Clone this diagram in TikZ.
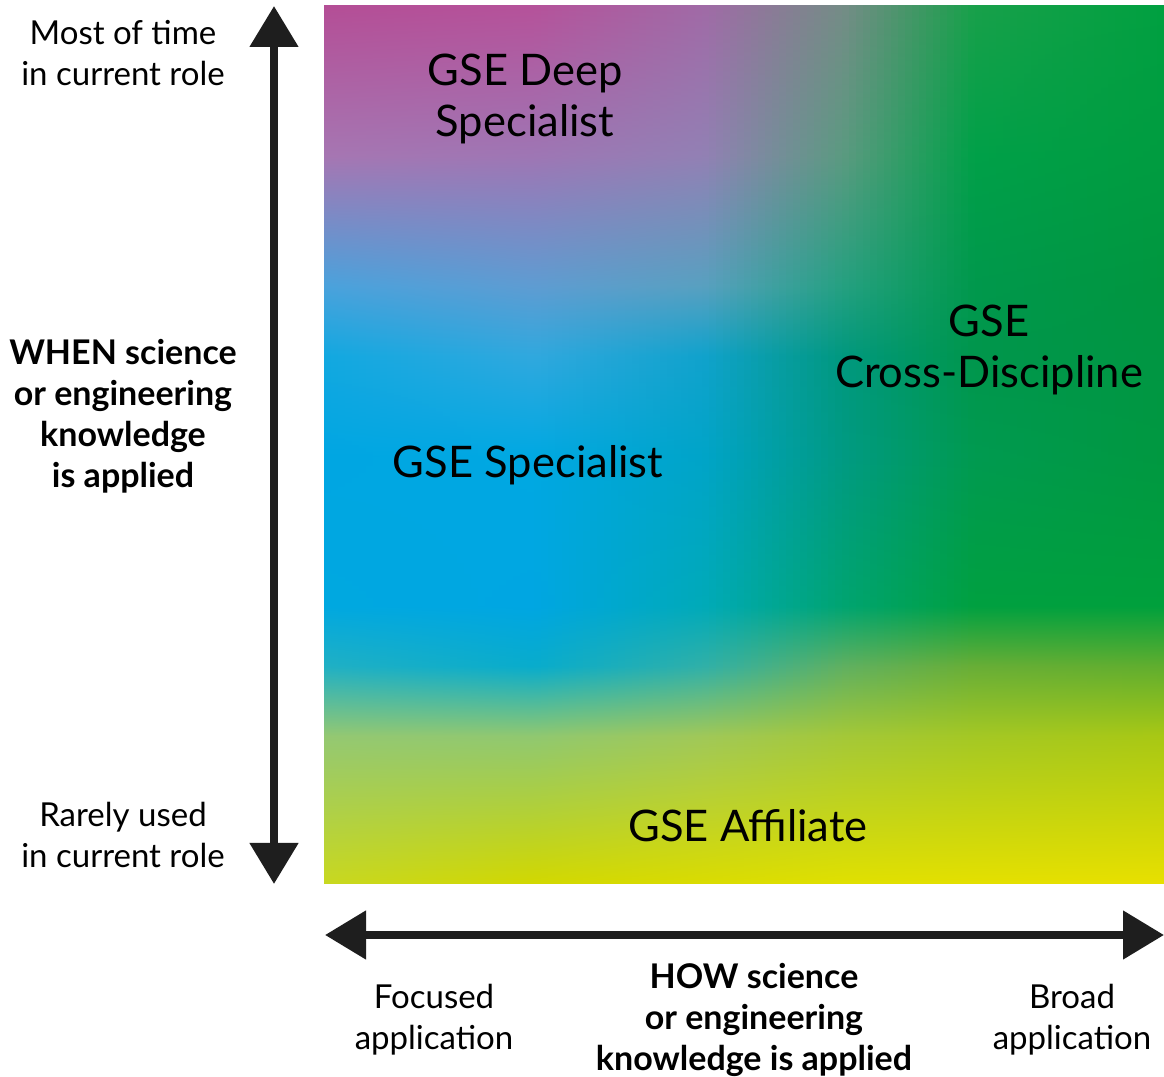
\documentclass[tikz,border=0pt]{standalone}
\usepackage{fontspec}
\setmainfont{Lato}
\usetikzlibrary{arrows.meta}
% control grid colours: c<row><col>
\definecolor{c00}{HTML}{B44E96}\definecolor{c01}{HTML}{B5529A}\definecolor{c02}{HTML}{A06AA6}\definecolor{c03}{HTML}{748C86}\definecolor{c04}{HTML}{18A04A}\definecolor{c05}{HTML}{00A040}
\definecolor{c10}{HTML}{A676B2}\definecolor{c11}{HTML}{9E76B4}\definecolor{c12}{HTML}{9280B4}\definecolor{c13}{HTML}{5A9A80}\definecolor{c14}{HTML}{00A048}\definecolor{c15}{HTML}{009C40}
\definecolor{c20}{HTML}{4AA2DC}\definecolor{c21}{HTML}{5E9CD2}\definecolor{c22}{HTML}{58A0C0}\definecolor{c23}{HTML}{24A080}\definecolor{c24}{HTML}{00984C}\definecolor{c25}{HTML}{00963F}
\definecolor{c30}{HTML}{12A8E0}\definecolor{c31}{HTML}{30A8DE}\definecolor{c32}{HTML}{10A2CC}\definecolor{c33}{HTML}{00987E}\definecolor{c34}{HTML}{00964C}\definecolor{c35}{HTML}{009642}
\definecolor{c40}{HTML}{00A6E2}\definecolor{c41}{HTML}{00A8E2}\definecolor{c42}{HTML}{00A4C8}\definecolor{c43}{HTML}{009A82}\definecolor{c44}{HTML}{009A50}\definecolor{c45}{HTML}{009840}
\definecolor{c50}{HTML}{00A8E0}\definecolor{c51}{HTML}{00A6E2}\definecolor{c52}{HTML}{00AAB8}\definecolor{c53}{HTML}{00A470}\definecolor{c54}{HTML}{00A040}\definecolor{c55}{HTML}{00A03C}
\definecolor{c60}{HTML}{20B0C4}\definecolor{c61}{HTML}{08ACCC}\definecolor{c62}{HTML}{30B0A8}\definecolor{c63}{HTML}{60B060}\definecolor{c64}{HTML}{68AE36}\definecolor{c65}{HTML}{60AE2E}
\definecolor{c70}{HTML}{94C872}\definecolor{c71}{HTML}{90C870}\definecolor{c72}{HTML}{A0C858}\definecolor{c73}{HTML}{A4C838}\definecolor{c74}{HTML}{A4C824}\definecolor{c75}{HTML}{A8C814}
\definecolor{c80}{HTML}{C8D820}\definecolor{c81}{HTML}{D2D800}\definecolor{c82}{HTML}{DADC00}\definecolor{c83}{HTML}{E0E000}\definecolor{c84}{HTML}{E4E000}\definecolor{c85}{HTML}{E8E000}
\definecolor{arrowdark}{HTML}{1E1E1E}
\tikzset{
  region/.style={font=\fontsize{43.5}{51}\selectfont, align=center, text=black, inner sep=0pt},
  axislabel/.style={font=\fontsize{33}{41}\selectfont, align=center, text=black, inner sep=0pt},
  axistitle/.style={font=\bfseries\fontsize{34}{41}\selectfont, align=center, text=black, inner sep=0pt},
  axisarrow/.style={draw=arrowdark, line width=8pt, {Triangle[width=47pt,length=41pt]}-{Triangle[width=47pt,length=41pt]}, arrowdark},
}
\begin{document}
\begin{tikzpicture}[x=1pt,y=1pt]
\useasboundingbox (0,0) rectangle (1164,1076);
\fill[white] (0,0) rectangle (1164,1076);
% gradient square
\begin{scope}
\clip (324,192) rectangle (1164,1070);
\foreach \k in {0,...,119}{
  \pgfmathsetmacro{\xx}{(\k+0.5)*7}
  \ifdim\xx pt<210pt
    \def\ca{0}\def\cb{1}\pgfmathsetmacro{\pp}{100*(1-\xx/210)}
  \else\ifdim\xx pt<380pt
    \def\ca{1}\def\cb{2}\pgfmathsetmacro{\pp}{100*(1-(\xx-210)/170)}
  \else\ifdim\xx pt<520pt
    \def\ca{2}\def\cb{3}\pgfmathsetmacro{\pp}{100*(1-(\xx-380)/140)}
  \else\ifdim\xx pt<650pt
    \def\ca{3}\def\cb{4}\pgfmathsetmacro{\pp}{100*(1-(\xx-520)/130)}
  \else
    \def\ca{4}\def\cb{5}\pgfmathsetmacro{\pp}{100*(1-(\xx-650)/190)}
  \fi\fi\fi\fi
  \colorlet{m0}{c0\ca!\pp!c0\cb}
  \colorlet{m1}{c1\ca!\pp!c1\cb}
  \colorlet{m2}{c2\ca!\pp!c2\cb}
  \colorlet{m3}{c3\ca!\pp!c3\cb}
  \colorlet{m4}{c4\ca!\pp!c4\cb}
  \colorlet{m5}{c5\ca!\pp!c5\cb}
  \colorlet{m6}{c6\ca!\pp!c6\cb}
  \colorlet{m7}{c7\ca!\pp!c7\cb}
  \colorlet{m8}{c8\ca!\pp!c8\cb}
  \pgfdeclareverticalshading{strip\k}{100bp}{color(0bp)=(m8); color(25bp)=(m8); color(33.43bp)=(m7); color(37.41bp)=(m6); color(40.83bp)=(m5); color(49.37bp)=(m4); color(55.07bp)=(m3); color(59.05bp)=(m2); color(66.46bp)=(m1); color(75bp)=(m0); color(100bp)=(m0)}
  \fill[shading=strip\k] ({324+\k*7},192) rectangle ({324+\k*7+7.6},1070);
}
\end{scope}
% region labels
\node[region] (deep) at (525,977) {GSE Deep\\Specialist};
\node[region] (cross) at (989,726) {GSE\\Cross-Discipline};
\node[region] (spec) at (528,611) {GSE Specialist};
\node[region] (affil) at (748,250) {GSE Affiliate};
% axes
\coordinate (vtop) at (274,1070);
\coordinate (vbot) at (274,192);
\coordinate (hleft) at (325,141);
\coordinate (hright) at (1164,141);
\draw[axisarrow] (vbot) -- (vtop);
\draw[axisarrow] (hleft) -- (hright);
% axis labels
\node[axislabel] (most) at (123,1023) {Most of time\\in current role};
\node[axistitle] (when) at (123,660) {WHEN science\\or engineering\\knowledge\\is applied};
\node[axislabel] (rare) at (123,241) {Rarely used\\in current role};
\node[axislabel] (focus) at (434,56) {Focused\\application};
\node[axistitle] (how) at (754,56) {HOW science\\or engineering\\knowledge is applied};
\node[axislabel] (broad) at (1072,56) {Broad\\application};
\end{tikzpicture}
\end{document}
